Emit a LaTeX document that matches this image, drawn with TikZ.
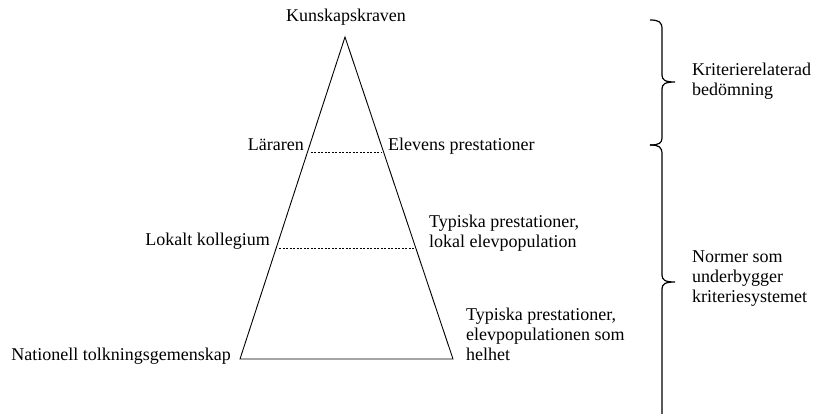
\documentclass[tikz,border=0pt]{standalone}
\usepackage{fontspec}
\setmainfont{Liberation Serif}
\usetikzlibrary{calc}
\begin{document}
\begin{tikzpicture}[x=1pt,y=-1pt,
  font=\fontsize{18}{20}\selectfont,
  lbl/.style={inner sep=0pt, align=left},
  tri/.style={line width=0.9pt},
  dashline/.style={dash pattern=on 2.2pt off 1.3pt, line width=0.55pt},
  braceline/.style={line width=1.2pt}]
\useasboundingbox (0,0) rectangle (817,413);
\clip (0,0) rectangle (817,413);
% triangle
\coordinate (apex) at (345,37);
\coordinate (bl) at (240,359);
\coordinate (br) at (453,359);
\draw[tri] (bl) -- (apex) -- (br) -- cycle;
\coordinate (d1l) at ($(apex)!0.357!(bl)+(3,0)$);
\coordinate (d1r) at ($(apex)!0.357!(br)+(-2,0)$);
\coordinate (d2l) at ($(apex)!0.655!(bl)+(3,0)$);
\coordinate (d2r) at ($(apex)!0.655!(br)+(-2,0)$);
\draw[dashline] (d1l) -- (d1r);
\draw[dashline] (d2l) -- (d2r);
% labels (base anchor = baseline of the last line)
\node[lbl, anchor=base] (top) at (346,21) {Kunskapskraven};
\node[lbl, anchor=base east] (lar) at (304,150) {Läraren};
\node[lbl, anchor=base west] (elev) at (388,150) {Elevens prestationer};
\node[lbl, anchor=base east] (lok) at (270,245) {Lokalt kollegium};
\node[lbl, anchor=base west] (typ1) at (429,247) {Typiska prestationer,\\lokal elevpopulation};
\node[lbl, anchor=base east] (nat) at (231,360) {Nationell tolkningsgemenskap};
\node[lbl, anchor=base west] (typ2) at (466,360) {Typiska prestationer,\\elevpopulationen som\\helhet};
\node[lbl, anchor=base west] (krit) at (692,95) {Kriterierelaterad\\bedömning};
\node[lbl, anchor=base west] (norm) at (692,302) {Normer som\\underbygger\\kriteriesystemet};
% braces
\draw[braceline] (650,20) .. controls (659,20) and (662,22) .. (662,29)
  -- (662,75) .. controls (662,80) and (665,82) .. (675,82)
  .. controls (665,82) and (662,84) .. (662,89)
  -- (662,138) .. controls (662,143) and (659,145) .. (650,145);
\draw[braceline] (650,145) .. controls (659,145) and (662,147) .. (662,154)
  -- (662,275) .. controls (662,280) and (665,282) .. (675,282)
  .. controls (665,282) and (662,284) .. (662,289)
  -- (662,420);
\end{tikzpicture}
\end{document}
